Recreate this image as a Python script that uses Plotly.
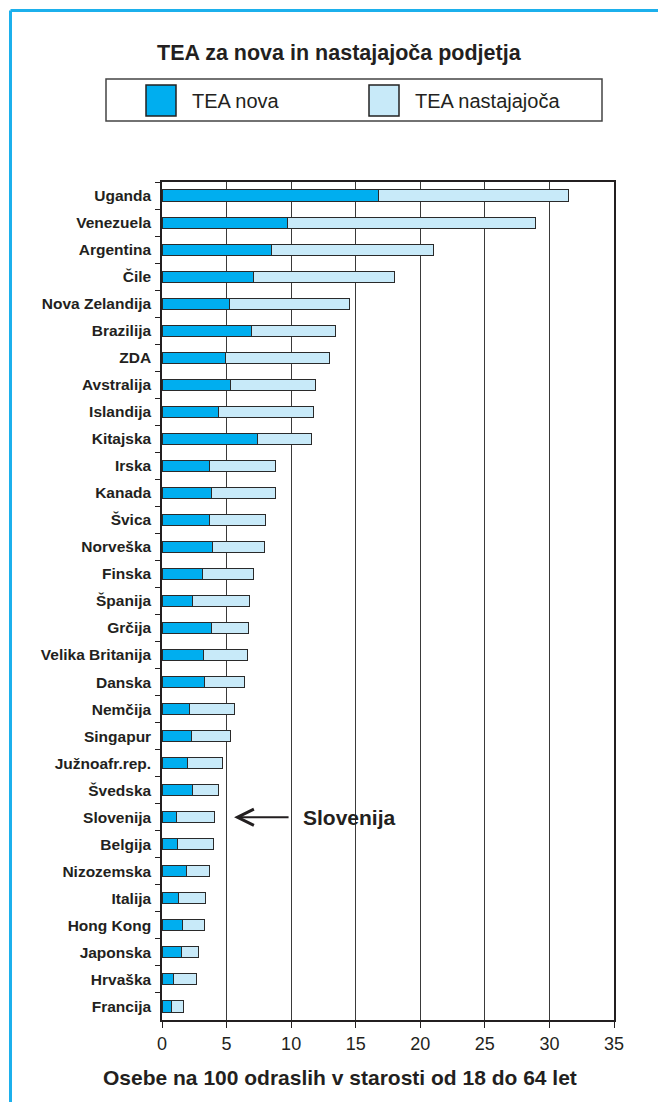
import plotly.graph_objects as go

countries = ["Uganda", "Venezuela", "Argentina", "Čile", "Nova Zelandija", "Brazilija", "ZDA",
             "Avstralija", "Islandija", "Kitajska", "Irska", "Kanada", "Švica", "Norveška",
             "Finska", "Španija", "Grčija", "Velika Britanija", "Danska", "Nemčija", "Singapur",
             "Južnoafr.rep.", "Švedska", "Slovenija", "Belgija", "Nizozemska", "Italija",
             "Hong Kong", "Japonska", "Hrvaška", "Francija"]
tea_nova = [16.8, 9.7, 8.5, 7.1, 5.2, 6.9, 4.9, 5.3, 4.4, 7.4, 3.7, 3.8, 3.7, 3.9, 3.1, 2.4,
            3.8, 3.2, 3.3, 2.1, 2.3, 2.0, 2.4, 1.1, 1.2, 1.9, 1.3, 1.6, 1.5, 0.9, 0.7]
tea_nastajajoca = [14.7, 19.2, 12.5, 10.9, 9.3, 6.5, 8.1, 6.6, 7.3, 4.2, 5.1, 5.0, 4.3, 4.0, 4.0,
                   4.4, 2.9, 3.4, 3.1, 3.5, 3.0, 2.7, 2.0, 3.0, 2.8, 1.8, 2.1, 1.7, 1.3, 1.8, 0.95]
x_ticks = [0, 5, 10, 15, 20, 25, 30, 35]

title_text = "TEA za nova in nastajajoča podjetja"
legend_names = ["TEA nova", "TEA nastajajoča"]
x_title = "Osebe na 100 odraslih v starosti od 18 do 64 let"
highlight = "Slovenija"

C_DARK = "#00AEEF"
C_LIGHT = "#C8EAF9"
INK = "#231F20"
FONT = "Liberation Sans, Arial, Helvetica, sans-serif"

W, Hh = 658, 1102
L, R, T, B = 162, 614, 182, 1020
PW, PH = R - L, B - T


def px(x):
    return (x - L) / PW


def py(y):
    return (B - y) / PH


fig = go.Figure()
for vals, col, name in [(tea_nova, C_DARK, legend_names[0]), (tea_nastajajoca, C_LIGHT, legend_names[1])]:
    fig.add_trace(go.Bar(
        y=countries, x=vals, orientation="h", name=name, width=0.41,
        marker=dict(color=col, line=dict(color="#2a2a2a", width=1)),
        showlegend=False,
    ))

shapes = []
# outer blue frame (top and left)
shapes.append(dict(type="line", xref="paper", yref="paper", x0=px(10.5), x1=px(700), y0=py(10.5), y1=py(10.5),
                   line=dict(color="#1CB0EC", width=3)))
shapes.append(dict(type="line", xref="paper", yref="paper", x0=px(10.5), x1=px(10.5), y0=py(10.5), y1=py(1150),
                   line=dict(color="#1CB0EC", width=3)))
# legend box
shapes.append(dict(type="rect", xref="paper", yref="paper", x0=px(106), x1=px(602), y0=py(79), y1=py(121),
                   line=dict(color="#444444", width=1.5), fillcolor="white"))
shapes.append(dict(type="rect", xref="paper", yref="paper", x0=px(146), x1=px(176), y0=py(85), y1=py(116),
                   line=dict(color="#222222", width=1.5), fillcolor=C_DARK))
shapes.append(dict(type="rect", xref="paper", yref="paper", x0=px(369), x1=px(399), y0=py(85), y1=py(116),
                   line=dict(color="#222222", width=1.5), fillcolor=C_LIGHT))

annotations = [
    dict(text=title_text, xref="paper", yref="paper", x=px(339), y=py(53), xanchor="center", yanchor="middle",
         showarrow=False, font=dict(family=FONT, size=21.5, color=INK, weight="bold")),
    dict(text=legend_names[0], xref="paper", yref="paper", x=px(190), y=py(101), xanchor="left", yanchor="middle",
         showarrow=False, font=dict(family=FONT, size=20, color=INK)),
    dict(text=legend_names[1], xref="paper", yref="paper", x=px(413), y=py(101), xanchor="left", yanchor="middle",
         showarrow=False, font=dict(family=FONT, size=20, color=INK)),
    dict(text=x_title, xref="paper", yref="paper", x=px(340), y=py(1077), xanchor="center", yanchor="middle",
         showarrow=False, font=dict(family=FONT, size=21, color=INK, weight="bold")),
    dict(text="", x=5.58, y=highlight, xref="x", yref="y", showarrow=True, ax=56, ay=0,
         arrowhead=5, arrowsize=1.6, arrowwidth=2, arrowcolor=INK),
    dict(text=highlight, x=10.8, y=highlight, xref="x", yref="y", xanchor="left", yanchor="middle",
         showarrow=False, font=dict(family=FONT, size=21, color=INK, weight="bold")),
]

fig.update_layout(
    width=W, height=Hh,
    margin=dict(l=L, r=W - R, t=T, b=Hh - B, pad=0),
    paper_bgcolor="white", plot_bgcolor="white",
    barmode="stack",
    shapes=shapes, annotations=annotations,
    font=dict(family=FONT, color=INK),
    xaxis=dict(range=[0, 35], tickvals=x_ticks, ticks="outside", ticklen=6, tickcolor=INK, tickwidth=1.2,
               showgrid=True, gridcolor="#3a3a3a", gridwidth=1.2, zeroline=False,
               showline=True, linecolor=INK, linewidth=2, mirror=True,
               tickfont=dict(family=FONT, size=18, color=INK)),
    yaxis=dict(type="category", categoryorder="array", categoryarray=countries, range=[30.5, -0.5],
               ticks="outside", tickson="boundaries", ticklen=5, tickcolor=INK, tickwidth=1.2,
               showgrid=False, showline=True, linecolor=INK, linewidth=1.5, mirror=True,
               ticklabelstandoff=6,
               tickfont=dict(family=FONT, size=15.5, color=INK, weight="bold")),
)

fig.write_html("out.html", config={"displayModeBar": False},
               post_script="document.body.style.margin='0';document.body.style.overflow='hidden';")
